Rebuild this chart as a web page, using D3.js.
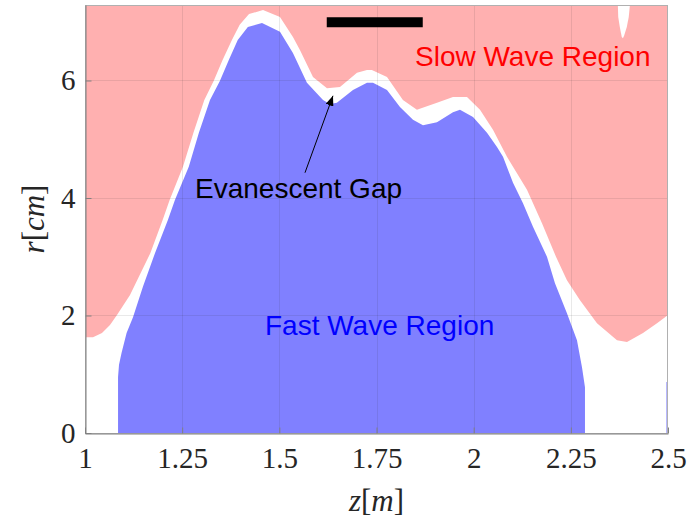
<!DOCTYPE html>
<html>
<head>
<meta charset="utf-8">
<script src="https://cdn.jsdelivr.net/npm/d3@7"></script>
<style>
  html, body { margin: 0; padding: 0; background: #fff; }
  svg { display: block; }
</style>
</head>
<body>
<svg id="chart" width="688" height="525"></svg>
<script>
// Axis ticks
const zTicks = [1, 1.25, 1.5, 1.75, 2, 2.25, 2.5];
const rTicks = [0, 2, 4, 6];

// Upper boundary of the fast-wave (propagating) region, r in cm vs z in m
const fastZ = [1.085, 1.085, 1.0875, 1.094, 1.107, 1.1235, 1.149, 1.180, 1.2135, 1.2316,
  1.267, 1.293, 1.3216, 1.347, 1.370, 1.393, 1.419, 1.4554, 1.5017, 1.535, 1.571,
  1.6124, 1.630, 1.648, 1.6895, 1.7255, 1.741, 1.777, 1.8104, 1.8439, 1.8696, 1.9056,
  1.9468, 1.9648, 1.9983, 2.0343, 2.060, 2.0755, 2.1012, 2.1269, 2.1526, 2.1886,
  2.2092, 2.240, 2.2658, 2.2787, 2.2864, 2.2864];
const fastR = [0, 0.95, 1.16, 1.36, 1.70, 1.97, 2.49, 3.06, 3.63, 3.97,
  4.53, 5.11, 5.67, 5.99, 6.35, 6.69, 6.91, 6.98, 6.83, 6.47, 5.96,
  5.67, 5.60, 5.62, 5.84, 5.96, 5.96, 5.84, 5.55, 5.33, 5.24, 5.29,
  5.46, 5.50, 5.38, 5.11, 4.87, 4.70, 4.26, 3.91, 3.51, 3.00,
  2.55, 2.04, 1.58, 1.12, 0.78, 0];

// Lower boundary of the slow-wave region
const slowZ = [1.0, 1.0206, 1.0437, 1.0643, 1.0823, 1.1158, 1.1467, 1.168, 1.200, 1.218,
  1.252, 1.279, 1.307, 1.331, 1.354, 1.378, 1.398, 1.422, 1.458, 1.5017, 1.535,
  1.553, 1.5866, 1.6226, 1.656, 1.6998, 1.7255, 1.738, 1.777, 1.818, 1.854, 1.9056,
  1.9468, 1.9828, 2.0163, 2.0497, 2.0857, 2.1372, 2.1758, 2.2118, 2.240, 2.2736,
  2.3173, 2.3688, 2.3945, 2.4357, 2.4717, 2.5];
const slowR = [1.63, 1.63, 1.70, 1.84, 2.01, 2.35, 2.77, 3.06, 3.63, 3.97,
  4.53, 5.11, 5.67, 5.99, 6.35, 6.69, 6.95, 7.13, 7.20, 7.08, 6.74,
  6.52, 6.06, 5.87, 5.89, 6.13, 6.18, 6.18, 6.06, 5.67, 5.50, 5.62,
  5.72, 5.72, 5.50, 5.16, 4.70, 4.14, 3.57, 3.00, 2.60, 2.26,
  1.87, 1.58, 1.55, 1.70, 1.87, 2.01];

// Small evanescent notch cutting into the slow-wave region near the top
const notchZ = [2.371, 2.372, 2.376, 2.381, 2.384, 2.387, 2.394, 2.399, 2.402];
const notchR = [7.285, 7.08, 6.91, 6.74, 6.72, 6.76, 6.91, 7.08, 7.285];

// Thin fast-wave sliver at the right edge
const stripZ = [2.496, 2.5];
const stripR = [0.87, 0.87];

// Scale bar
const barZ = [1.622, 1.869];
const barR = [6.99, 6.99];

// Annotation arrow (tail -> head)
const arrowZ = [1.566, 1.638];
const arrowR = [4.43, 5.74];

const rMax = 7.285;
const plot = { left: 85, right: 668, top: 5, bottom: 433 };

const svg = d3.select("#chart");
const x = d3.scaleLinear().domain([1, 2.5]).range([plot.left, plot.right]);
const y = d3.scaleLinear().domain([0, rMax]).range([plot.bottom, plot.top]);

const pink = "rgb(255,176,176)";
const blue = "rgb(128,128,255)";

const pts = (zs, rs) => zs.map((z, i) => [z, rs[i]]);
const areaDown = d3.area().x(d => x(d[0])).y0(y(rMax)).y1(d => y(d[1]));
const areaUp = d3.area().x(d => x(d[0])).y0(y(0)).y1(d => y(d[1]));

// Slow-wave region: from its boundary up to the top of the axes
svg.append("path").attr("d", areaDown(pts(slowZ, slowR))).attr("fill", pink);

// Notch
svg.append("path").attr("d", areaDown(pts(notchZ, notchR))).attr("fill", "#fff");

// Fast-wave region: from the axis up to its boundary
svg.append("path").attr("d", areaUp(pts(fastZ, fastR))).attr("fill", blue);
svg.append("path").attr("d", areaUp(pts(stripZ, stripR))).attr("fill", blue);

// Grid
const grid = svg.append("g").attr("stroke", "#262626").attr("stroke-opacity", 0.1).attr("stroke-width", 1);
grid.selectAll("line.gx").data(zTicks.slice(1, -1)).join("line")
  .attr("x1", d => Math.round(x(d)) + 0.5).attr("x2", d => Math.round(x(d)) + 0.5)
  .attr("y1", plot.top).attr("y2", plot.bottom);
grid.selectAll("line.gy").data(rTicks.slice(1)).join("line")
  .attr("y1", d => Math.round(y(d)) + 0.5).attr("y2", d => Math.round(y(d)) + 0.5)
  .attr("x1", plot.left).attr("x2", plot.right);

// Box
svg.append("rect")
  .attr("x", plot.left + 0.5).attr("y", plot.top + 0.5)
  .attr("width", plot.right - plot.left - 1).attr("height", plot.bottom - plot.top)
  .attr("fill", "none").attr("stroke", "#b0b0b0").attr("stroke-width", 1);

// Axes
const tickFont = "'Liberation Serif', 'Times New Roman', serif";
const xAxis = svg.append("g")
  .attr("transform", `translate(0,${plot.bottom + 0.5})`)
  .call(d3.axisBottom(x).tickValues(zTicks).tickFormat(d3.format("~g"))
    .tickSizeInner(-6).tickSizeOuter(0).tickPadding(14));
const yAxis = svg.append("g")
  .attr("transform", `translate(${plot.left + 0.5},0)`)
  .call(d3.axisLeft(y).tickValues(rTicks).tickFormat(d3.format("d"))
    .tickSizeInner(-6).tickSizeOuter(0).tickPadding(10));
[xAxis, yAxis].forEach(g => {
  g.select(".domain").attr("stroke", "#808080");
  g.selectAll(".tick line").attr("stroke", "#808080");
  g.selectAll(".tick text").attr("fill", "#262626")
    .style("font-family", tickFont).style("font-size", "29px");
});

// Axis titles (math style)
const xt = svg.append("text")
  .attr("x", (plot.left + plot.right) / 2).attr("y", 511)
  .attr("text-anchor", "middle").attr("fill", "#262626")
  .style("font-family", tickFont).style("font-size", "31px");
xt.append("tspan").style("font-style", "italic").text("z");
xt.append("tspan").text("[");
xt.append("tspan").style("font-style", "italic").text("m");
xt.append("tspan").text("]");

const yt = svg.append("text")
  .attr("transform", `translate(44,${(plot.top + plot.bottom) / 2}) rotate(-90)`)
  .attr("text-anchor", "middle").attr("fill", "#262626")
  .style("font-family", tickFont).style("font-size", "31px");
yt.append("tspan").style("font-style", "italic").text("r");
yt.append("tspan").text("[");
yt.append("tspan").style("font-style", "italic").text("cm");
yt.append("tspan").text("]");

// Scale bar
svg.append("line")
  .attr("x1", x(barZ[0])).attr("x2", x(barZ[1]))
  .attr("y1", y(barR[0])).attr("y2", y(barR[1]))
  .attr("stroke", "#000").attr("stroke-width", 10);

// Arrow
svg.append("defs").append("marker")
  .attr("id", "head").attr("viewBox", "0 0 10 8")
  .attr("refX", 10).attr("refY", 4)
  .attr("markerWidth", 10).attr("markerHeight", 8)
  .attr("markerUnits", "userSpaceOnUse").attr("orient", "auto")
  .append("path").attr("d", "M0,0 L10,4 L0,8 Z").attr("fill", "#000");
svg.append("line")
  .attr("x1", x(arrowZ[0])).attr("y1", y(arrowR[0]))
  .attr("x2", x(arrowZ[1])).attr("y2", y(arrowR[1]))
  .attr("stroke", "#000").attr("stroke-width", 1)
  .attr("marker-end", "url(#head)");

// Region labels
const labelFont = "'Liberation Sans', Arial, Helvetica, sans-serif";
svg.append("text").attr("x", 415).attr("y", 66)
  .attr("fill", "#ff0000").style("font-family", labelFont).style("font-size", "28px")
  .text("Slow Wave Region");
svg.append("text").attr("x", 265).attr("y", 335)
  .attr("fill", "#0000ff").style("font-family", labelFont).style("font-size", "28px")
  .text("Fast Wave Region");
svg.append("text").attr("x", 195).attr("y", 198)
  .attr("fill", "#000").style("font-family", labelFont).style("font-size", "28px")
  .text("Evanescent Gap");
</script>
</body>
</html>
